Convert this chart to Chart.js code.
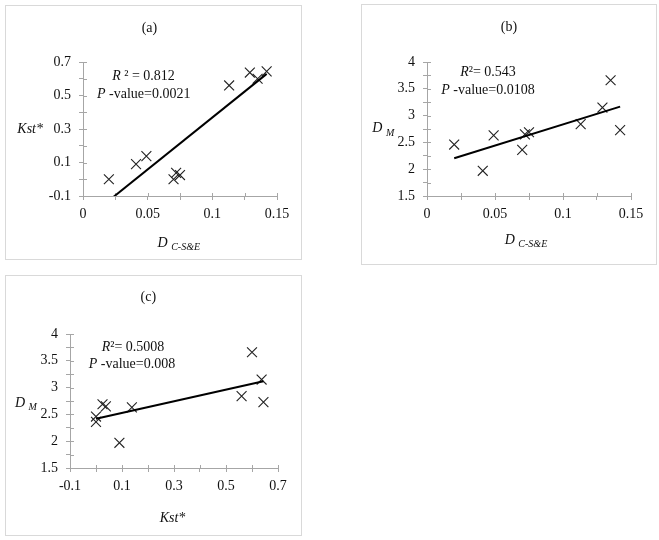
<!DOCTYPE html>
<html>
<head>
<meta charset="utf-8">
<script src="https://cdn.jsdelivr.net/npm/chart.js@4/dist/chart.umd.min.js"></script>
<style>
html,body{margin:0;padding:0;background:#fff;}
body{width:659px;height:540px;position:relative;overflow:hidden;font-family:"Liberation Serif",serif;}
.panel{position:absolute;border:1px solid #d9d9d9;box-sizing:border-box;background:#fff;}
.panel canvas{display:block;}
</style>
</head>
<body>
<div class="panel" style="left:5px;top:5px;width:297px;height:255px;"><canvas id="ca" width="295" height="253"></canvas></div>
<div class="panel" style="left:361px;top:4px;width:296px;height:261px;"><canvas id="cb" width="294" height="259"></canvas></div>
<div class="panel" style="left:5px;top:275px;width:297px;height:261px;"><canvas id="cc" width="295" height="259"></canvas></div>
<script>
// ---- data (10 samples) ----
const dCSE = [0.020, 0.041, 0.049, 0.070, 0.072, 0.075, 0.113, 0.129, 0.135, 0.142];
const kst  = [0.000, 0.090, 0.138, 0.000, 0.038, 0.025, 0.560, 0.637, 0.600, 0.644];
const dM   = [2.46, 1.97, 2.63, 2.36, 2.65, 2.69, 2.84, 3.15, 3.66, 2.73];

// ---- tick labels ----
const dTickLabels   = ['0', '0.05', '0.1', '0.15'];
const kstTickLabels = ['-0.1', '0.1', '0.3', '0.5', '0.7'];
const dmTickLabels  = ['1.5', '2', '2.5', '3', '3.5', '4'];

// ---- statistics text ----
const statsA = ['0.812', '0.0021'];
const statsB = ['0.543', '0.0108'];
const statsC = ['0.5008', '0.008'];

const SERIF = '"Liberation Serif", "Times New Roman", serif';
const AXIS = '#a6a6a6';
const INK = '#111';

function fmt(v){ return String(parseFloat(Number(v).toFixed(4))); }
function labeler(list){ return v => { const s = fmt(v); return list.includes(s) ? s : ''; }; }

function fit(xs, ys){
  const n = xs.length;
  const mx = xs.reduce((a,b)=>a+b,0)/n, my = ys.reduce((a,b)=>a+b,0)/n;
  let sxy = 0, sxx = 0;
  for (let i=0;i<n;i++){ sxy += (xs[i]-mx)*(ys[i]-my); sxx += (xs[i]-mx)*(xs[i]-mx); }
  const b = sxy/sxx, a = my - b*mx;
  const x0 = Math.min(...xs), x1 = Math.max(...xs);
  return [{x:x0, y:a+b*x0}, {x:x1, y:a+b*x1}];
}

function textPlugin(items){
  return {
    id: 'richText',
    afterDraw(chart){
      const ctx = chart.ctx;
      items.forEach(it => {
        ctx.save();
        ctx.fillStyle = INK;
        ctx.textBaseline = 'middle';
        ctx.textAlign = 'left';
        let w = 0;
        it.runs.forEach(r => { ctx.font = r.font; w += ctx.measureText(r.text).width; });
        let x = it.align === 'center' ? it.x - w/2 : it.x;
        it.runs.forEach(r => { ctx.font = r.font; ctx.fillText(r.text, x, it.y + (r.dy||0)); x += ctx.measureText(r.text).width; });
        ctx.restore();
      });
    }
  };
}

const innerTicks = {
  id: 'innerTicks',
  beforeDatasetsDraw(chart){
    const ctx = chart.ctx, a = chart.chartArea;
    const xs = chart.scales.x, ys = chart.scales.y;
    ctx.save();
    ctx.strokeStyle = AXIS; ctx.lineWidth = 1;
    xs.ticks.forEach((t,i) => { const px = Math.round(xs.getPixelForTick(i)) + 0.5; ctx.beginPath(); ctx.moveTo(px, a.bottom); ctx.lineTo(px, a.bottom - 3); ctx.stroke(); });
    ys.ticks.forEach((t,i) => { const py = Math.round(ys.getPixelForTick(i)) + 0.5; ctx.beginPath(); ctx.moveTo(a.left, py); ctx.lineTo(a.left + 4, py); ctx.stroke(); });
    ctx.restore();
  }
};

const f = (style, size) => style + ' ' + size + 'px ' + SERIF;

function axis(min, max, step, labels, fitFn, pad){
  return {
    type: 'linear', min: min, max: max,
    afterFit: fitFn,
    border: { display: true, color: AXIS, width: 1 },
    grid: { display: true, drawOnChartArea: false, drawTicks: true, tickLength: 4, color: AXIS },
    ticks: { stepSize: step, autoSkip: false, maxRotation: 0, padding: pad, color: INK,
             font: { family: SERIF, size: 14 }, callback: labeler(labels) }
  };
}

function makeChart(id, xs, ys, cfg){
  const pts = xs.map((x,i) => ({x: x, y: ys[i]}));
  new Chart(document.getElementById(id), {
    type: 'scatter',
    data: { datasets: [
      { data: pts, pointStyle: 'crossRot', pointRadius: 7, pointHoverRadius: 7, pointBorderWidth: 1.1,
        borderColor: '#222', backgroundColor: '#222', order: 2 },
      { data: fit(xs, ys), showLine: true, pointRadius: 0, borderColor: '#000', borderWidth: 2, order: 1 }
    ]},
    options: {
      responsive: false, animation: false, devicePixelRatio: 1,
      layout: { autoPadding: false, padding: cfg.padding },
      plugins: { legend: { display: false }, tooltip: { enabled: false } },
      scales: { x: cfg.x, y: cfg.y }
    },
    plugins: [innerTicks, textPlugin(cfg.texts)]
  });
}

// (a) Kst* vs D C-S&E
makeChart('ca', dCSE, kst, {
  padding: { top: 56, right: 24, left: 0, bottom: 0 },
  x: axis(0, 0.15, 0.025, dTickLabels, s => { s.height = 63; }, 6),
  y: axis(-0.1, 0.7, 0.1, kstTickLabels, s => { s.width = 77; }, 8),
  texts: [
    { x: 143.4, y: 22, align: 'center', runs: [{text: '(a)', font: f('normal', 14)}] },
    { x: 137.5, y: 70, align: 'center', runs: [{text: 'R', font: f('italic', 14)}, {text: ' \u00b2 = ' + statsA[0], font: f('normal', 14)}] },
    { x: 137.7, y: 88.5, align: 'center', runs: [{text: 'P', font: f('italic', 14)}, {text: ' -value=' + statsA[1], font: f('normal', 14)}] },
    { x: 11.3, y: 123.3, align: 'left', runs: [{text: 'Kst*', font: f('italic', 14)}] },
    { x: 172.8, y: 237.3, align: 'center', runs: [{text: 'D ', font: f('italic', 14)}, {text: 'C-S&E', font: f('italic', 10), dy: 4}] }
  ]
});

// (b) D M vs D C-S&E
makeChart('cb', dCSE, dM, {
  padding: { top: 57, right: 25, left: 0, bottom: 0 },
  x: axis(0, 0.15, 0.025, dTickLabels, s => { s.height = 68; }, 6),
  y: axis(1.5, 4, 0.25, dmTickLabels, s => { s.width = 65; }, 8),
  texts: [
    { x: 147, y: 22.3, align: 'center', runs: [{text: '(b)', font: f('normal', 14)}] },
    { x: 126, y: 67.5, align: 'center', runs: [{text: 'R', font: f('italic', 14)}, {text: '\u00b2= ' + statsB[0], font: f('normal', 14)}] },
    { x: 126, y: 85, align: 'center', runs: [{text: 'P', font: f('italic', 14)}, {text: ' -value=' + statsB[1], font: f('normal', 14)}] },
    { x: 10.3, y: 123.3, align: 'left', runs: [{text: 'D ', font: f('italic', 14)}, {text: 'M', font: f('italic', 10), dy: 5}] },
    { x: 164, y: 235, align: 'center', runs: [{text: 'D ', font: f('italic', 14)}, {text: 'C-S&E', font: f('italic', 10), dy: 4}] }
  ]
});

// (c) D M vs Kst*
makeChart('cc', kst, dM, {
  padding: { top: 58, right: 23, left: 0, bottom: 0 },
  x: axis(-0.1, 0.7, 0.1, kstTickLabels, s => { s.height = 67; }, 6),
  y: axis(1.5, 4, 0.25, dmTickLabels, s => { s.width = 64; }, 8),
  texts: [
    { x: 142.3, y: 21, align: 'center', runs: [{text: '(c)', font: f('normal', 14)}] },
    { x: 127, y: 71.3, align: 'center', runs: [{text: 'R', font: f('italic', 14)}, {text: '\u00b2= ' + statsC[0], font: f('normal', 14)}] },
    { x: 126, y: 88, align: 'center', runs: [{text: 'P', font: f('italic', 14)}, {text: ' -value=' + statsC[1], font: f('normal', 14)}] },
    { x: 9, y: 127.3, align: 'left', runs: [{text: 'D ', font: f('italic', 14)}, {text: 'M', font: f('italic', 10), dy: 4}] },
    { x: 166.5, y: 242, align: 'center', runs: [{text: 'Kst*', font: f('italic', 14)}] }
  ]
});
</script>
</body>
</html>
